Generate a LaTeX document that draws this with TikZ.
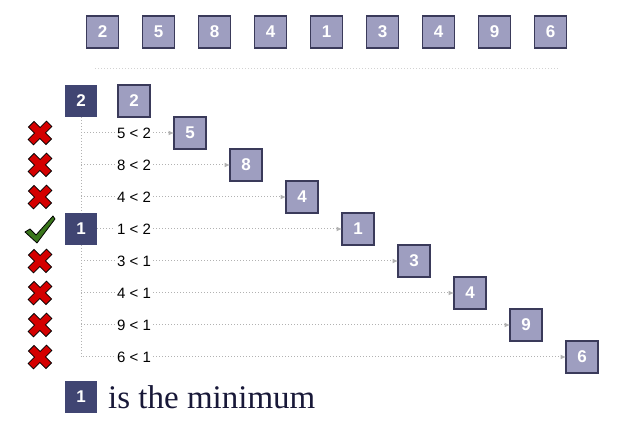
\documentclass[tikz,border=0pt]{standalone}
\usepackage{fontspec}
\setmainfont{Liberation Serif}
\setsansfont{Liberation Sans}
\usetikzlibrary{positioning, arrows.meta}

\definecolor{cellfill}{RGB}{158,158,192}
\definecolor{celldraw}{RGB}{58,58,90}
\definecolor{minfill}{RGB}{64,69,114}
\definecolor{wrongred}{RGB}{212,0,0}
\definecolor{okgreen}{RGB}{58,118,28}
\definecolor{notetext}{RGB}{24,24,56}

\tikzset{
  crossmark/.pic={
    \draw[fill=wrongred, line width=0.8pt, line join=miter, rotate=45, yscale=0.95]
      (4,13) -- (4,4) -- (13,4) -- (13,-4) -- (4,-4) -- (4,-13) -- (-4,-13)
      -- (-4,-4) -- (-13,-4) -- (-13,4) -- (-4,4) -- (-4,13) -- cycle;
  },
  checkmark/.pic={
    \draw[fill=okgreen, line width=0.8pt, line join=round]
      (-15,-3) -- (-10,0) -- (-4,-6) -- (13,13) -- (15,10) -- (-3,-14) -- cycle;
  }
}

\begin{document}
\begin{tikzpicture}[
  x=1pt, y=1pt,
  node distance=24pt,
  cell/.style={draw=celldraw, line width=1.1pt, fill=cellfill, text=white,
               minimum width=32pt, minimum height=32pt, inner sep=0pt, outer sep=0pt,
               font=\sffamily\bfseries\fontsize{17}{17}\selectfont},
  mincell/.style={cell, draw=none, fill=minfill},
  cmp/.style={inner sep=2pt, font=\sffamily\fontsize{15}{15}\selectfont},
  conn/.style={draw=gray!60, line width=1pt, dash pattern=on 1pt off 2pt,
               -{Latex[length=5.5pt, width=5pt]}},
  guide/.style={draw=gray!60, line width=1pt, dash pattern=on 1pt off 2pt},
  sep/.style={draw=gray!35, line width=1pt, dash pattern=on 1pt off 2pt}
 ]
\useasboundingbox (0,0) rectangle (621,431);

% the array
\node[cell] (a1) at (102.5,399) {2};
\node[cell, right=of a1] (a2) {5};
\node[cell, right=of a2] (a3) {8};
\node[cell, right=of a3] (a4) {4};
\node[cell, right=of a4] (a5) {1};
\node[cell, right=of a5] (a6) {3};
\node[cell, right=of a6] (a7) {4};
\node[cell, right=of a7] (a8) {9};
\node[cell, right=of a8] (a9) {6};

\coordinate (s1) at (95,362.5);
\coordinate (s2) at (558,362.5);
\draw[sep] (s1) -- (s2);

% scanning for the minimum
\node[cell] (d0) at (134,330) {2};
\node[cell, below right=0pt and 24pt of d0] (d1) {5};
\node[cell, below right=0pt and 24pt of d1] (d2) {8};
\node[cell, below right=0pt and 24pt of d2] (d3) {4};
\node[cell, below right=0pt and 24pt of d3] (d4) {1};
\node[cell, below right=0pt and 24pt of d4] (d5) {3};
\node[cell, below right=0pt and 24pt of d5] (d6) {4};
\node[cell, below right=0pt and 24pt of d6] (d7) {9};
\node[cell, below right=0pt and 24pt of d7] (d8) {6};

\node[mincell] (min0) at (81,330) {2};
\node[mincell] (min1) at (81,202) {1};

\coordinate (v1) at (81,298);
\coordinate (v2) at (81,266);
\coordinate (v3) at (81,234);
\coordinate (v5) at (81,170);
\coordinate (v6) at (81,138);
\coordinate (v7) at (81,106);
\coordinate (v8) at (81,74);

\node[cmp] (c1) at (134,298) {5 < 2};
\node[cmp] (c2) at (134,266) {8 < 2};
\node[cmp] (c3) at (134,234) {4 < 2};
\node[cmp] (c4) at (134,202) {1 < 2};
\node[cmp] (c5) at (134,170) {3 < 1};
\node[cmp] (c6) at (134,138) {4 < 1};
\node[cmp] (c7) at (134,106) {9 < 1};
\node[cmp] (c8) at (134,74)  {6 < 1};

\draw[guide] (min0) -- (min1);
\draw[conn] (v1) -- (c1) -- (d1);
\draw[conn] (v2) -- (c2) -- (d2);
\draw[conn] (v3) -- (c3) -- (d3);
\draw[conn] (min1) -- (c4) -- (d4);
\draw[conn] (v5) -- (c5) -- (d5);
\draw[conn] (v6) -- (c6) -- (d6);
\draw[conn] (v7) -- (c7) -- (d7);
\draw[conn] (min1) -- (v8) -- (c8) -- (d8);

\pic at (40,298) {crossmark};
\pic at (40,266) {crossmark};
\pic at (40,234) {crossmark};
\pic at (40,202) {checkmark};
\pic at (40,170) {crossmark};
\pic at (40,138) {crossmark};
\pic at (40,106) {crossmark};
\pic at (40,74)  {crossmark};

% result
\node[mincell] (min2) at (81,34) {1};
\node[anchor=base west, inner sep=0pt, text=notetext,
      font=\fontsize{33}{33}\selectfont] (note) at (108,22) {is the minimum};
\end{tikzpicture}
\end{document}
